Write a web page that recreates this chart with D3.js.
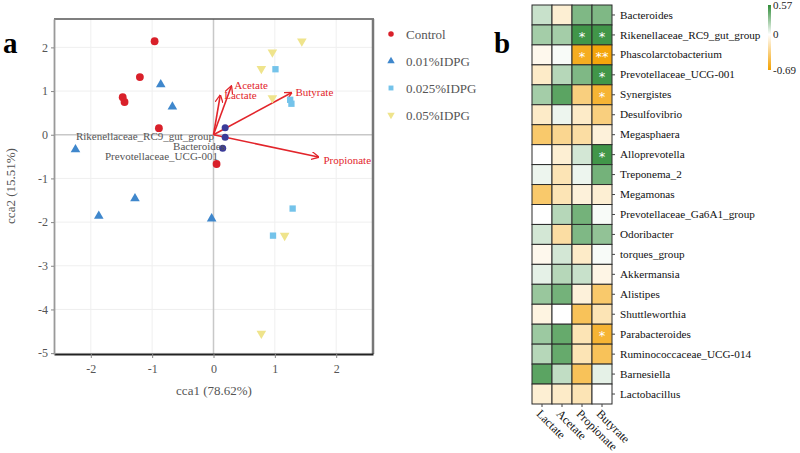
<!DOCTYPE html>
<html>
<head>
<meta charset="utf-8">
<style>
body { margin: 0; background: #fff; }
svg { display: block; }
text { font-family: "Liberation Serif", "DejaVu Serif", serif; }
</style>
</head>
<body>
<svg width="800" height="453"></svg>
<script src="https://cdn.jsdelivr.net/npm/d3@7/dist/d3.min.js"></script>
<script>

// ---- panel a data ----
var groups = ["Control", "0.01%IDPG", "0.025%IDPG", "0.05%IDPG"];
var groupColors = ["#d9202a", "#3f87cc", "#74c3ea", "#efe48c"];
var groupShapes = [d3.symbolCircle, d3.symbolTriangle, d3.symbolSquare, d3.symbolTriangle];

var controlPts = [[-0.96, 2.14], [-1.2, 1.32], [-1.48, 0.86], [-1.45, 0.75], [-0.89, 0.15], [0.05, -0.67]];
var idpg001Pts = [[-0.86, 1.15], [-0.67, 0.64], [-2.25, -0.34], [-1.28, -1.46], [-1.87, -1.86], [-0.03, -1.92]];
var idpg0025Pts = [[1.01, 1.5], [1.25, 0.8], [1.27, 0.71], [1.29, -1.69], [0.97, -2.31]];
var idpg005Pts = [[1.44, 2.14], [0.96, 1.89], [0.78, 1.51], [0.96, 0.84], [1.16, -2.31], [0.78, -4.55]];

var speciesNames = ["Rikenellaceae_RC9_gut_group", "Bacteroides", "Prevotellaceae_UCG-001"];
var speciesPts = [[0.19, 0.16], [0.19, -0.06], [0.15, -0.31]];

var envNames = ["Acetate", "Lactate", "Butyrate", "Propionate"];
var envPts = [[0.29, 1.11], [0.11, 0.9], [1.27, 0.96], [1.71, -0.51]];

var xTicks = [-2, -1, 0, 1, 2];
var yTicks = [-5, -4, -3, -2, -1, 0, 1, 2];

// ---- panel b data ----
var acids = ["Lactate", "Acetate", "Propionate", "Butyrate"];
var taxa = ["Bacteroides", "Rikenellaceae_RC9_gut_group", "Phascolarctobacterium", "Prevotellaceae_UCG-001",
  "Synergistes", "Desulfovibrio", "Megasphaera", "Alloprevotella", "Treponema_2", "Megamonas",
  "Prevotellaceae_Ga6A1_group", "Odoribacter", "torques_group", "Akkermansia", "Alistipes",
  "Shuttleworthia", "Parabacteroides", "Ruminococcaceae_UCG-014", "Barnesiella", "Lactobacillus"];
var corr = [
  [0.15, -0.12, 0.35, 0.35],
  [0.25, 0.25, 0.52, 0.52],
  [-0.05, 0.02, -0.6, -0.66],
  [-0.15, 0.2, 0.35, 0.52],
  [0.25, 0.45, -0.35, -0.55],
  [-0.15, 0.05, -0.15, -0.35],
  [-0.4, -0.3, -0.25, -0.1],
  [0.0, -0.12, 0.12, 0.52],
  [0.05, -0.2, 0.05, 0.38],
  [-0.4, -0.2, -0.1, -0.12],
  [0.0, 0.2, 0.38, 0.02],
  [0.12, -0.25, 0.35, 0.3],
  [-0.05, 0.12, -0.15, 0.02],
  [0.07, 0.2, 0.15, -0.07],
  [0.28, 0.38, -0.1, -0.4],
  [-0.08, 0.0, -0.45, -0.2],
  [0.27, 0.42, -0.2, -0.55],
  [0.2, 0.42, -0.2, -0.45],
  [0.45, 0.17, -0.45, 0.07],
  [-0.12, -0.15, -0.2, 0.0]
];
var stars = [
  ["", "", "", ""], ["", "", "*", "*"], ["", "", "*", "**"], ["", "", "", "*"], ["", "", "", "*"],
  ["", "", "", ""], ["", "", "", ""], ["", "", "", "*"], ["", "", "", ""], ["", "", "", ""],
  ["", "", "", ""], ["", "", "", ""], ["", "", "", ""], ["", "", "", ""], ["", "", "", ""],
  ["", "", "", ""], ["", "", "", "*"], ["", "", "", ""], ["", "", "", ""], ["", "", "", ""]
];
var legendTicks = [0.57, 0, -0.69];

var svg = d3.select("svg");

// ================= panel a =================
var x = d3.scaleLinear().domain([-2.6, 2.6]).range([54, 373]);
var y = d3.scaleLinear().domain([-5.02, 2.65]).range([354, 19]);

var pa = svg.append("g");

// grid
pa.selectAll(".gx").data(xTicks.filter(function(d){ return d !== 0; })).enter().append("line")
  .attr("x1", function(d){ return x(d); }).attr("x2", function(d){ return x(d); })
  .attr("y1", 19).attr("y2", 354).attr("stroke", "#efefef");
pa.selectAll(".gy").data(yTicks.filter(function(d){ return d !== 0; })).enter().append("line")
  .attr("x1", 54).attr("x2", 373)
  .attr("y1", function(d){ return y(d); }).attr("y2", function(d){ return y(d); }).attr("stroke", "#efefef");
// zero lines
pa.append("line").attr("x1", x(0)).attr("x2", x(0)).attr("y1", 19).attr("y2", 354)
  .attr("stroke", "#c8c8c8").attr("stroke-width", 1.5);
pa.append("line").attr("x1", 54).attr("x2", 373).attr("y1", y(0)).attr("y2", y(0))
  .attr("stroke", "#c8c8c8").attr("stroke-width", 1.5);

// frame
pa.append("line").attr("x1", 54).attr("x2", 374).attr("y1", 19).attr("y2", 19)
  .attr("stroke", "#555").attr("stroke-width", 1.5);
pa.append("line").attr("x1", 373).attr("x2", 373).attr("y1", 19).attr("y2", 354)
  .attr("stroke", "#777").attr("stroke-width", 2.5);

var fmt = function(d){ return String(d); };
var xAxis = pa.append("g").attr("transform", "translate(0,354)")
  .call(d3.axisBottom(x).tickValues(xTicks).tickFormat(fmt).tickSize(4).tickPadding(6).tickSizeOuter(0));
xAxis.select(".domain").attr("stroke", "#222").attr("stroke-width", 1.8);
var yAxis = pa.append("g").attr("transform", "translate(54,0)")
  .call(d3.axisLeft(y).tickValues(yTicks).tickFormat(fmt).tickSize(3).tickPadding(3).tickSizeOuter(0));
yAxis.select(".domain").attr("stroke", "#999").attr("stroke-width", 1.8);
[xAxis, yAxis].forEach(function(a){
  a.selectAll(".tick line").attr("stroke", "#888");
  a.selectAll(".tick text").attr("fill", "#555").style("font-family", "Liberation Serif, serif").style("font-size", "12px");
});

pa.append("text").attr("x", 214).attr("y", 395).attr("text-anchor", "middle")
  .attr("fill", "#555").style("font-size", "13px").text("cca1 (78.62%)");
pa.append("text").attr("transform", "translate(15,186) rotate(-90)").attr("text-anchor", "middle")
  .attr("fill", "#555").style("font-size", "13px").text("cca2 (15.51%)");

// arrows
svg.append("defs").append("marker").attr("id", "ah")
  .attr("viewBox", "0 0 10 10").attr("refX", 9).attr("refY", 5)
  .attr("markerWidth", 8).attr("markerHeight", 8).attr("orient", "auto")
  .attr("markerUnits", "userSpaceOnUse")
  .append("path").attr("d", "M0,0 L10,5 L0,10").attr("fill", "none").attr("stroke", "#e2252b").attr("stroke-width", 1.6);

pa.selectAll(".env").data(envPts).enter().append("line")
  .attr("x1", x(0)).attr("y1", y(0))
  .attr("x2", function(d){ return x(d[0]); }).attr("y2", function(d){ return y(d[1]); })
  .attr("stroke", "#e2252b").attr("stroke-width", 1.6).attr("marker-end", "url(#ah)");
var envLabelOff = [[3, 0], [4, 1], [4, 0], [5, 4]];
pa.selectAll(".envl").data(envPts).enter().append("text")
  .attr("x", function(d, i){ return x(d[0]) + envLabelOff[i][0]; })
  .attr("y", function(d, i){ return y(d[1]) + envLabelOff[i][1] + 3; })
  .attr("fill", "#e2252b").style("font-size", "11px")
  .text(function(d, i){ return envNames[i]; });

// species
pa.selectAll(".sp").data(speciesPts).enter().append("circle")
  .attr("cx", function(d){ return x(d[0]); }).attr("cy", function(d){ return y(d[1]); })
  .attr("r", 3.5).attr("fill", "#3b3b99");
var spLabelPos = [[214, 140], [225, 150], [218, 160]];
pa.selectAll(".spl").data(speciesNames).enter().append("text")
  .attr("x", function(d, i){ return spLabelPos[i][0]; })
  .attr("y", function(d, i){ return spLabelPos[i][1]; })
  .attr("text-anchor", "end").attr("fill", "#555").style("font-size", "11px")
  .text(function(d){ return d; });

// sample points
var allPts = [controlPts, idpg001Pts, idpg0025Pts, idpg005Pts];
allPts.forEach(function(pts, gi){
  var sym = d3.symbol().type(groupShapes[gi]).size(gi === 0 ? 48 : 40);
  pa.selectAll(".p" + gi).data(pts).enter().append("path")
    .attr("d", sym)
    .attr("transform", function(d){
      return "translate(" + x(d[0]) + "," + y(d[1]) + ")" + (gi === 3 ? " rotate(180)" : "");
    })
    .attr("fill", groupColors[gi]);
});

// legend
var lg = svg.append("g");
groups.forEach(function(g, i){
  var ly = [34, 61, 88, 115][i];
  lg.append("path").attr("d", d3.symbol().type(groupShapes[i]).size(24))
    .attr("transform", "translate(391," + ly + ")" + (i === 3 ? " rotate(180)" : ""))
    .attr("fill", groupColors[i]);
  lg.append("text").attr("x", 406).attr("y", ly + 4.5).attr("fill", "#555")
    .style("font-size", "13px").text(g);
});

svg.append("text").attr("x", 3).attr("y", 53).style("font-size", "29px").style("font-weight", "bold").text("a");
svg.append("text").attr("x", 494).attr("y", 53).style("font-size", "29px").style("font-weight", "bold").text("b");

// ================= panel b =================
var hx = d3.scaleBand().domain(acids).range([532, 612]);
var hy = d3.scaleBand().domain(taxa).range([5, 404]);
var color = d3.scaleLinear().domain([-0.69, 0, 0.57]).range(["#f4a100", "#ffffff", "#2f8c38"]);

var pb = svg.append("g");
taxa.forEach(function(t, ri){
  acids.forEach(function(a, ci){
    pb.append("rect").attr("x", hx(a)).attr("y", hy(t))
      .attr("width", hx.bandwidth()).attr("height", hy.bandwidth())
      .attr("fill", color(corr[ri][ci])).attr("stroke", "#2a2a2a").attr("stroke-width", 1);
    if (stars[ri][ci]) {
      pb.append("text").attr("x", hx(a) + hx.bandwidth() / 2).attr("y", hy(t) + hy.bandwidth() / 2 + 6)
        .attr("text-anchor", "middle").attr("fill", "#fff").style("font-size", "13px")
        .style("font-family", "DejaVu Sans, sans-serif")
        .text(stars[ri][ci]);
    }
  });
});
var rAxis = pb.append("g").attr("transform", "translate(612,0)")
  .call(d3.axisRight(hy).tickSize(3).tickPadding(5));
rAxis.select(".domain").remove();
rAxis.selectAll(".tick line").attr("stroke", "#444");
rAxis.selectAll(".tick text").attr("fill", "#111").style("font-family", "Liberation Serif, serif").style("font-size", "11.2px");

var bAxis = pb.append("g").attr("transform", "translate(0,404)")
  .call(d3.axisBottom(hx).tickSize(3).tickPadding(4));
bAxis.select(".domain").remove();
bAxis.selectAll(".tick line").attr("stroke", "#444");
bAxis.selectAll(".tick text").attr("fill", "#111").style("font-family", "Liberation Serif, serif").style("font-size", "12px")
  .attr("text-anchor", "start").attr("dy", 0).attr("x", 3).attr("y", 12)
  .attr("transform", "rotate(45)");

// colour legend
var lgScale = d3.scaleLinear().domain([0.57, -0.69]).range([5, 70]);
var grad = svg.select("defs").append("linearGradient").attr("id", "cg")
  .attr("x1", 0).attr("y1", 0).attr("x2", 0).attr("y2", 1);
[0.57, 0, -0.69].forEach(function(v){
  grad.append("stop").attr("offset", (lgScale(v) - 5) / 65).attr("stop-color", color(v));
});
pb.append("rect").attr("x", 768).attr("y", 5).attr("width", 3).attr("height", 65).attr("fill", "url(#cg)");
pb.selectAll(".lt").data(legendTicks).enter().append("text")
  .attr("x", 773).attr("y", function(d){ return lgScale(d) + 4; })
  .attr("fill", "#222").style("font-size", "11px")
  .text(function(d){ return d; });

</script>
</body>
</html>
